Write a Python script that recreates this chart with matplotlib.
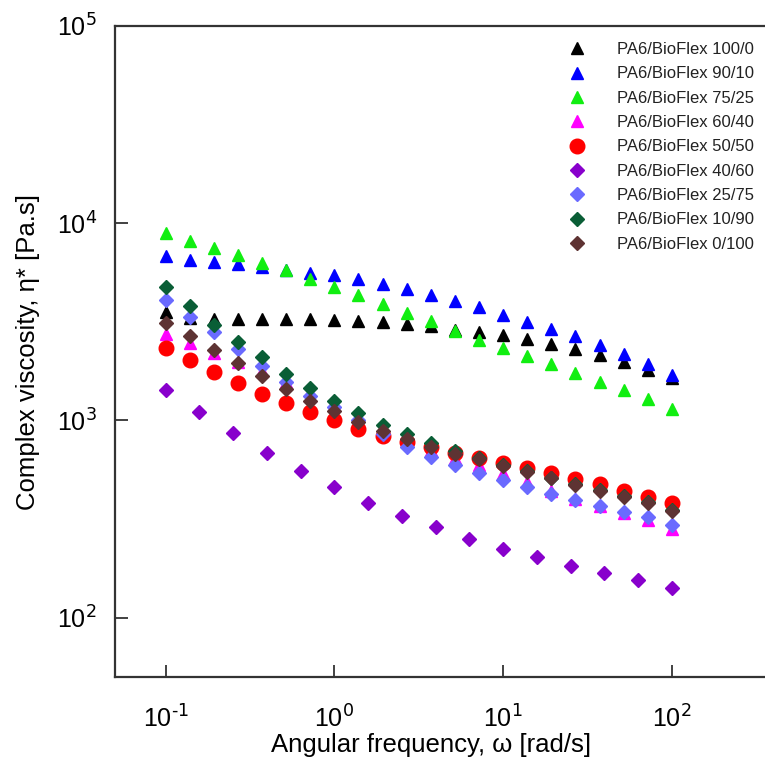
import numpy as np
import matplotlib
matplotlib.use('Agg')
import matplotlib.pyplot as plt
from matplotlib.ticker import FixedLocator, NullLocator, FuncFormatter

plt.rcParams['font.family'] = ['Liberation Sans', 'DejaVu Sans']
plt.rcParams['axes.unicode_minus'] = False

# angular frequency, 7 points per decade (most blends) and 5 per decade (40/60)
freq = [0.1, 0.139, 0.193, 0.268, 0.373, 0.518, 0.72, 1.0, 1.39, 1.93, 2.68,
        3.73, 5.18, 7.2, 10.0, 13.9, 19.3, 26.8, 37.3, 51.8, 72.0, 100.0]
freq5 = [0.1, 0.158, 0.251, 0.398, 0.631, 1.0, 1.58, 2.51, 3.98, 6.31, 10.0,
         15.8, 25.1, 39.8, 63.1, 100.0]

# complex viscosity [Pa.s]
eta_100_0 = [3535, 3313, 3285, 3285, 3285, 3285, 3273, 3248, 3183, 3145, 3087,
             3027, 2888, 2812, 2724, 2590, 2450, 2312, 2154, 1978, 1807, 1640]
eta_90_10 = [6833, 6521, 6383, 6208, 5986, 5799, 5617, 5437, 5188, 4934, 4652,
             4302, 4023, 3750, 3443, 3160, 2912, 2670, 2403, 2173, 1932, 1705]
eta_75_25 = [8865, 8125, 7485, 6900, 6310, 5765, 5232, 4763, 4300, 3900, 3515,
             3183, 2853, 2570, 2330, 2112, 1923, 1744, 1575, 1430, 1282, 1144]
eta_60_40 = [2740, 2480, 2206, 1985, 1776, 1565, 1332, 1199, 1054, 916, 796,
             708, 645, 594, 541, 486, 440, 399, 369, 338, 312, 283]
eta_50_50 = [2330, 2016, 1751, 1547, 1364, 1223, 1101, 1006, 905, 834, 777,
             733, 683, 642, 608, 571, 539, 503, 474, 441, 409, 380]
eta_40_60 = [1430, 1109, 867, 681, 555, 460, 382, 327, 287, 250, 224, 203,
             184, 169, 155.5, 142]
eta_25_75 = [4072, 3344, 2798, 2303, 1894, 1570, 1337, 1171, 1006, 854, 736,
             650, 594, 541, 498, 461, 426, 395, 369, 343, 324, 296]
eta_10_90 = [4752, 3794, 3044, 2489, 2085, 1711, 1455, 1260, 1088, 949, 852,
             768, 697, 642, 594, 553, 512, 474, 442, 412, 385, 352]
eta_0_100 = [3134, 2670, 2266, 1955, 1671, 1451, 1261, 1122, 986, 887, 802,
             736, 675, 637, 585, 549, 508, 470, 439, 409, 382, 348]

labels = ['PA6/BioFlex 100/0', 'PA6/BioFlex 90/10', 'PA6/BioFlex 75/25',
          'PA6/BioFlex 60/40', 'PA6/BioFlex 50/50', 'PA6/BioFlex 40/60',
          'PA6/BioFlex 25/75', 'PA6/BioFlex 10/90', 'PA6/BioFlex 0/100']
series = [eta_100_0, eta_90_10, eta_75_25, eta_60_40, eta_50_50, eta_40_60,
          eta_25_75, eta_10_90, eta_0_100]
colors = ['#000000', '#0000ff', '#11ee11', '#ff00ff', '#ff0000', '#8800cc',
          '#6a6aff', '#0a5e36', '#5e3333']
markers = ['^', '^', '^', '^', 'o', 'D', 'D', 'D', 'D']
msizes = [9, 9, 9, 9, 10.5, 7.5, 7.5, 7.5, 7.5]


def pow10(v, pos):
    e = int(round(np.log10(v)))
    return r'$\mathdefault{10^{\text{%d}}}$' % e


fig = plt.figure(figsize=(7.65, 7.6), dpi=100)
ax = fig.add_axes([0.150, 0.109, 0.850, 0.857])

for lab, y, c, m, s in zip(labels, series, colors, markers, msizes):
    x = freq5 if len(y) == len(freq5) else freq
    ax.plot(x, y, linestyle='none', marker=m, markersize=s, color=c,
            markeredgecolor=c, label=lab)

ax.set_xscale('log')
ax.set_yscale('log')
ax.set_xlim(0.05, 356)
ax.set_ylim(50, 1e5)
ax.xaxis.set_major_locator(FixedLocator([0.1, 1, 10, 100]))
ax.yaxis.set_major_locator(FixedLocator([100, 1000, 1e4, 1e5]))
ax.xaxis.set_minor_locator(NullLocator())
ax.yaxis.set_minor_locator(NullLocator())
ax.xaxis.set_major_formatter(FuncFormatter(pow10))
ax.yaxis.set_major_formatter(FuncFormatter(pow10))

for side in ['left', 'bottom', 'top']:
    ax.spines[side].set_linewidth(1.6)
    ax.spines[side].set_color('#333333')
ax.spines['right'].set_visible(False)
ax.tick_params(direction='in', length=9, width=1.3, color='#333333',
               labelsize=18, top=False, right=False)
ax.tick_params(axis='x', pad=20)
ax.tick_params(axis='y', pad=13)

ax.set_xlabel('Angular frequency, ω [rad/s]', fontsize=18.5)
ax.set_ylabel('Complex viscosity, η* [Pa.s]', fontsize=18.5, labelpad=12)
ax.xaxis.set_label_coords(0.486, -0.086)

leg = ax.legend(loc='upper left', bbox_to_anchor=(0.728, 0.96),
                bbox_transform=fig.transFigure, frameon=False, numpoints=1,
                fontsize=12, handlelength=1.0, handletextpad=1.9,
                labelspacing=0.56, borderpad=0.2)
for t in leg.get_texts():
    t.set_color('#222222')

fig.savefig('out.png', dpi=100)
